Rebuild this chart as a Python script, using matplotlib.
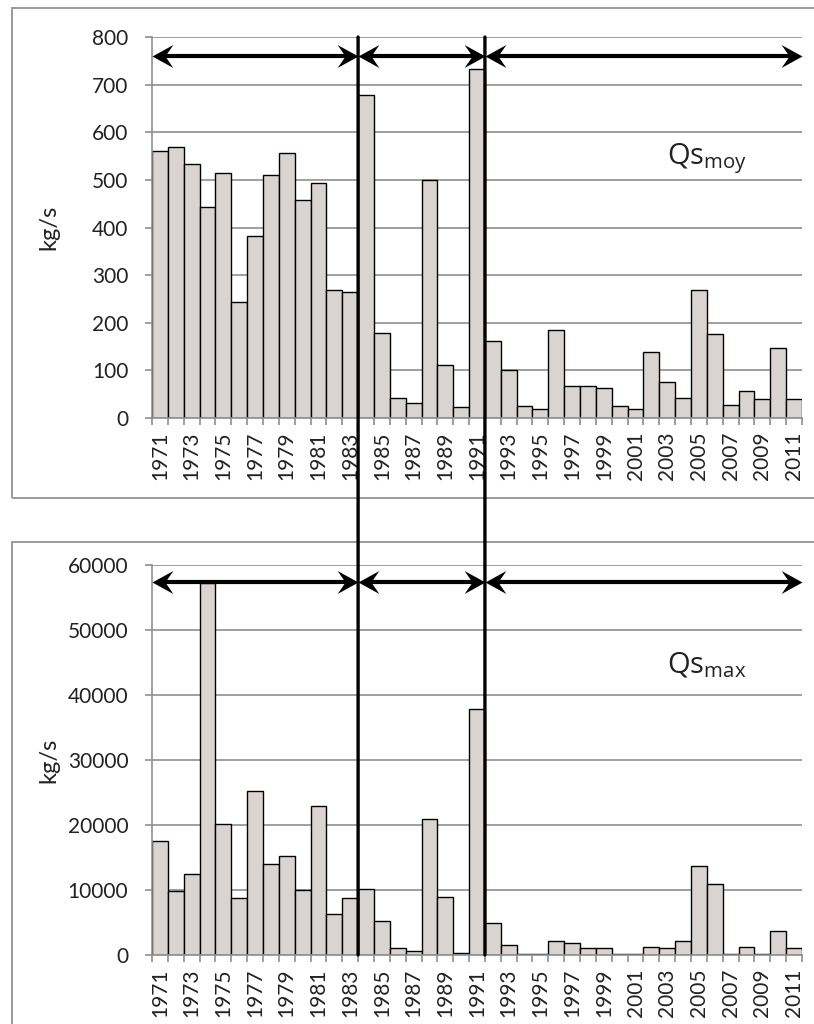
import matplotlib
matplotlib.use("Agg")
import matplotlib.pyplot as plt
from matplotlib.patches import ConnectionPatch, Rectangle
from matplotlib.path import Path
from matplotlib.ticker import FixedLocator

plt.rcParams['font.family'] = ['Lato', 'DejaVu Sans']
plt.rcParams['mathtext.default'] = 'regular'

years = list(range(1971, 2012))
qs_moy = [560, 568, 533, 443, 514, 243, 382, 511, 557, 458, 493, 268, 264,
          679, 179, 43, 31, 500, 111, 24, 732,
          161, 100, 25, 18, 185, 68, 68, 62, 25, 18, 139, 76, 43, 268, 176,
          28, 57, 40, 147, 39]
qs_max = [17600, 9800, 12400, 57300, 20200, 8700, 25200, 14000, 15300, 10000,
          22900, 6300, 8700,
          10200, 5300, 1100, 560, 21000, 9000, 300, 37800,
          5000, 1600, 200, 200, 2200, 1800, 1050, 1050, 200, 200, 1300, 1050,
          2200, 13700, 11000, 200, 1300, 200, 3750, 1100]
period_breaks = [1983.5, 1991.5]
tick_years = years[::2]

W, H = 814, 1024
fig = plt.figure(figsize=(W / 100, H / 100), dpi=100)

def frac(x0, y0, x1, y1):
    return [x0 / W, 1 - y1 / H, (x1 - x0) / W, (y1 - y0) / H]

ax1 = fig.add_axes(frac(152, 37, 802, 418))
ax2 = fig.add_axes(frac(152, 565, 802, 955))

grid_c = '#8f8f8f'
bar_c = '#d9d4d1'
txt_c = '#222222'

# stealth-style arrowheads (tip at origin)
head_right = Path([(0, 0), (-1, 0.55), (-0.62, 0), (-1, -0.55), (0, 0)],
                  [Path.MOVETO, Path.LINETO, Path.LINETO, Path.LINETO, Path.CLOSEPOLY])
head_left = Path([(0, 0), (1, 0.55), (0.62, 0), (1, -0.55), (0, 0)],
                 [Path.MOVETO, Path.LINETO, Path.LINETO, Path.LINETO, Path.CLOSEPOLY])

# panel frames
for (y0, y1) in [(8, 498), (542, 1030)]:
    fig.patches.append(Rectangle((12 / W, 1 - y1 / H), (830 - 12) / W, (y1 - y0) / H,
                                 transform=fig.transFigure, fill=False,
                                 edgecolor='#9a9a9a', linewidth=1.4, zorder=0))

def style(ax, vals, ymax, ystep, arrow_y, label, label_y):
    ax.bar(years, vals, width=1.0, color=bar_c, edgecolor='black', linewidth=1.0, zorder=2)
    ax.set_xlim(years[0] - 0.5, years[-1] + 0.5)
    ax.set_ylim(0, ymax)
    ax.set_yticks(range(0, ymax + 1, ystep))
    ax.yaxis.grid(True, color=grid_c, linewidth=1.2, zorder=0)
    ax.set_axisbelow(True)
    ax.set_xticks(tick_years)
    ax.set_xticklabels([str(y) for y in tick_years], rotation=90)
    ax.xaxis.set_minor_locator(FixedLocator([y - 0.5 for y in years] + [years[-1] + 0.5]))
    ax.tick_params(axis='x', which='major', length=0, pad=10, labelsize=15, labelcolor=txt_c)
    ax.tick_params(axis='x', which='minor', length=5, color=grid_c, width=1.2, direction='out')
    ax.tick_params(axis='y', length=5, color=grid_c, width=1.2, labelsize=15,
                   labelcolor=txt_c, pad=12)
    for s in ['top', 'right']:
        ax.spines[s].set_visible(False)
    for s in ['left', 'bottom']:
        ax.spines[s].set_color(grid_c)
        ax.spines[s].set_linewidth(1.2)
    ax.set_ylabel('kg/s', fontsize=17, color=txt_c)
    ax.yaxis.set_label_coords(-0.142, 0.5)
    edges = [years[0] - 0.5] + period_breaks + [years[-1] + 0.5]
    for a, b in zip(edges[:-1], edges[1:]):
        ax.plot([a + 0.4, b - 0.4], [arrow_y, arrow_y], color='black', linewidth=3.0,
                solid_capstyle='butt', zorder=5, clip_on=False)
        ax.plot([a], [arrow_y], marker=head_left, markersize=30, color='black',
                markeredgewidth=0, zorder=6, clip_on=False)
        ax.plot([b], [arrow_y], marker=head_right, markersize=30, color='black',
                markeredgewidth=0, zorder=6, clip_on=False)
    ax.text(2003.0, label_y, label, fontsize=21, color=txt_c, va='center', ha='left',
            family=['Open Sans', 'DejaVu Sans'])

style(ax1, qs_moy, 800, 100, 760, r'Qs$_{\mathregular{moy}}$', 545)
style(ax2, qs_max, 60000, 10000, 57400, r'Qs$_{\mathregular{max}}$', 44500)

for xb in period_breaks:
    cp = ConnectionPatch(xyA=(xb, 800), coordsA=ax1.transData,
                         xyB=(xb, 0), coordsB=ax2.transData,
                         color='black', linewidth=2.4, zorder=10)
    fig.add_artist(cp)

fig.savefig('out.png', dpi=100, facecolor='white')
